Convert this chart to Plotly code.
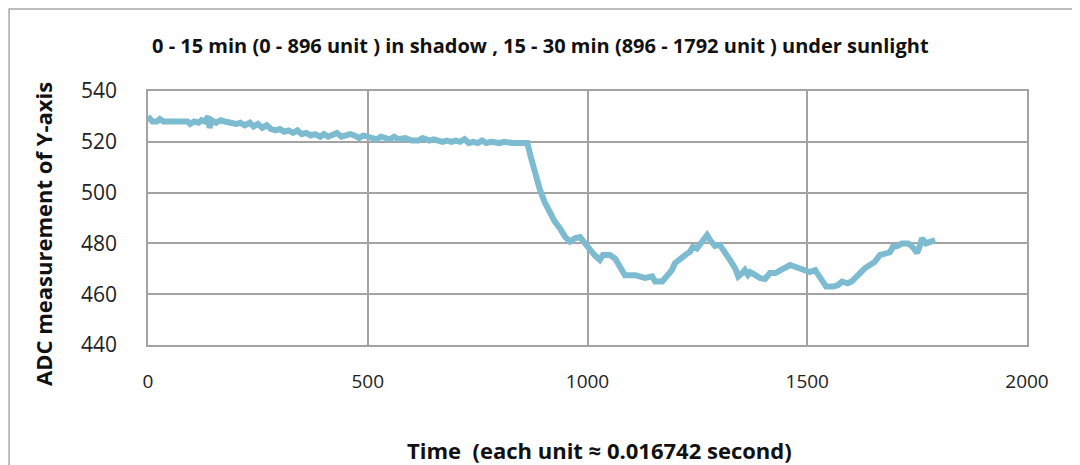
import plotly.graph_objects as go

title_text = "<b>0 - 15 min (0 - 896 unit ) in shadow , 15 - 30 min (896 - 1792 unit ) under sunlight</b>"
x_title = "<b>Time  (each unit \u2248 0.016742 second)</b>"
y_title = "<b>ADC measurement of Y-axis</b>"

x_ticks = [0, 500, 1000, 1500, 2000]
y_ticks = [440, 460, 480, 500, 520, 540]

time_units = [
    0, 5, 10, 20, 27, 35, 50, 70, 90, 96, 105, 115, 122, 130, 137, 140, 145, 155, 165, 175,
    185, 200, 210, 220, 232, 240, 250, 260, 270, 280, 290, 300, 310, 320, 330, 340, 350, 360,
    370, 380, 392, 400, 410, 420, 430, 440, 450, 460, 470, 480, 490, 500, 510, 520, 530, 540,
    550, 560, 570, 585, 600, 615, 625, 640, 650, 660, 670, 680, 690, 700, 710, 720, 730, 740,
    750, 760, 770, 780, 790, 800, 810, 820, 830, 840, 850, 863,
    871, 880, 892, 903, 915, 926, 937, 949, 960, 971, 983, 994, 1005, 1016, 1028, 1035, 1051,
    1063, 1074, 1085, 1108, 1119, 1131, 1147, 1154, 1170, 1181, 1192, 1199, 1210, 1222, 1233,
    1240, 1249, 1256, 1264, 1272, 1279, 1290, 1301, 1313, 1324, 1336, 1343, 1352, 1358, 1365,
    1370, 1381, 1393, 1404, 1415, 1427, 1438, 1449, 1461, 1472, 1484, 1495, 1506, 1518, 1525,
    1534, 1543, 1559, 1570, 1579, 1592, 1601, 1610, 1620, 1631, 1642, 1654, 1665, 1677, 1688,
    1695, 1706, 1715, 1729, 1738, 1745, 1750, 1757, 1761, 1770, 1779, 1791,
]

adc_values = [
    530, 528.5, 528, 528, 529, 528, 528, 528, 528, 527, 528, 527.5, 528.5, 528, 530, 525.5, 528.5, 527.5, 528.5, 528,
    527.5, 527, 527.5, 526.5, 527.5, 526, 527, 525.5, 526.5, 525, 524.5, 525, 524, 524.5, 523.5, 524.5, 523, 523.5,
    522.5, 523, 522, 523, 522, 522.5, 523.5, 522, 522.5, 523, 522.5, 521.5, 522.5, 522, 521.5, 521, 522, 521.5,
    521, 522, 521, 521.5, 520.5, 520.5, 521.5, 520.5, 521, 520.5, 520, 520.5, 520, 520.5, 520, 521, 519.5, 520,
    519.5, 520.5, 519.5, 520, 519.5, 519.5, 520, 519.5, 519.5, 519.5, 519.5, 519.5,
    514, 507.7, 501, 496, 492, 488.5, 486, 482.6, 480.7, 482, 482.5, 480, 478.2, 475.4, 473.5, 475.4, 475.4,
    474, 470.8, 467.5, 467.5, 467, 466.4, 467, 465, 465, 467, 469.5, 472.2, 474, 475.4, 476.7,
    478.7, 478, 479.4, 481, 483.3, 481.3, 479, 479.4, 476.7, 473.5, 470.2, 467, 468.3, 469.5, 467.6,
    468.7, 467.6, 466.3, 466, 468.3, 468.3, 469.5, 470.2, 471.5, 470.8, 470.2, 469.5, 468.7, 469.5, 467.6,
    465, 463, 463, 463.6, 465, 464.3, 465, 466.3, 468.3, 470.2, 471.5, 472.8, 475.4, 475.9, 476.5,
    478.7, 479, 480, 480, 478.9, 476.8, 476.3, 479.4, 482, 480, 480.5, 481.3,
]

fig = go.Figure()
fig.add_trace(go.Scatter(
    x=time_units, y=adc_values, mode="lines",
    line=dict(color="#7DBBD1", width=6, shape="linear"),
    showlegend=False, hoverinfo="skip",
))

grid_col = "#a3a3a3"
fig.update_xaxes(
    range=[0, 2000], tickvals=x_ticks, ticktext=[str(v) for v in x_ticks],
    showgrid=True, gridcolor=grid_col, gridwidth=1.5,
    showline=True, linecolor=grid_col, linewidth=1.5, mirror=True,
    zeroline=False, ticks="", ticklabelstandoff=18,
    tickfont=dict(family="Open Sans", size=19, color="#222222"),
)
fig.update_yaxes(
    range=[440, 540], tickvals=y_ticks, ticktext=[str(v) for v in y_ticks],
    showgrid=True, gridcolor=grid_col, gridwidth=1.5,
    showline=True, linecolor=grid_col, linewidth=1.5, mirror=True,
    zeroline=False, ticks="", ticklabelstandoff=25,
    tickfont=dict(family="Open Sans", size=21, color="#222222"),
)

# page body has an 8px default margin, so the figure is placed 8px in from the window corner
fig.update_layout(
    width=1072, height=457,
    margin=dict(l=140, r=53, t=83, b=120),
    paper_bgcolor="white", plot_bgcolor="white",
    shapes=[dict(
        type="rect", xref="paper", yref="paper",
        x0=-0.158, x1=1.1, y0=-0.6, y1=1.3228,
        line=dict(color="#a8a8a8", width=1.5), layer="below",
    )],
    annotations=[
        dict(text=title_text, xref="paper", yref="paper", x=0.446, y=1.181,
             xanchor="center", yanchor="middle", showarrow=False,
             font=dict(family="Open Sans", size=20, color="#111111")),
        dict(text=x_title, xref="paper", yref="paper", x=0.514, y=-0.413,
             xanchor="center", yanchor="middle", showarrow=False,
             font=dict(family="Open Sans", size=22, color="#111111")),
        dict(text=y_title, xref="paper", yref="paper", x=-0.1195, y=0.437,
             xanchor="center", yanchor="middle", showarrow=False, textangle=-90,
             font=dict(family="Open Sans", size=22, color="#111111")),
    ],
)

fig.write_html("out.html")
